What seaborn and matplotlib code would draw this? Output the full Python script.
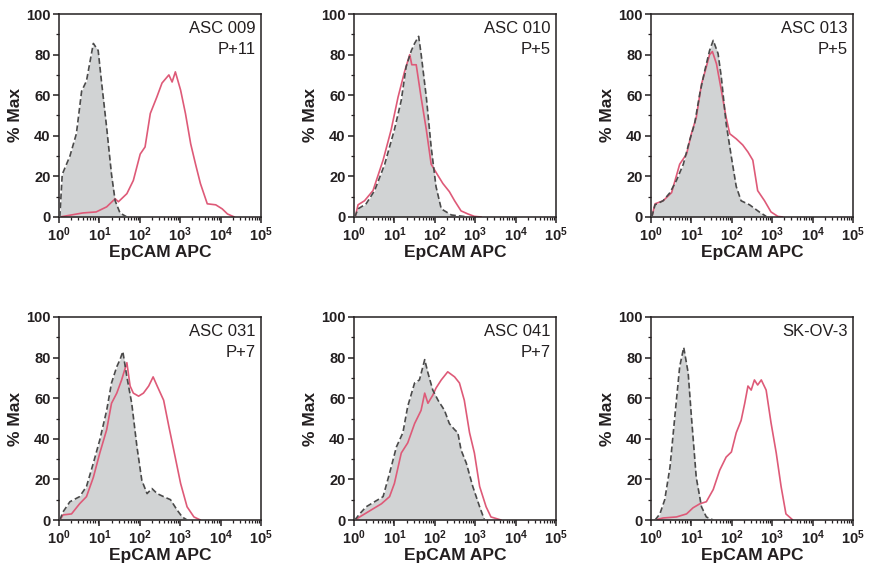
import numpy as np
import matplotlib
matplotlib.use("Agg")
import matplotlib.pyplot as plt
import matplotlib.ticker as mticker
import seaborn as sns

sns.set_theme(style="ticks")
plt.rcParams["font.family"] = ["Liberation Sans", "DejaVu Sans"]
plt.rcParams["mathtext.fontset"] = "custom"
plt.rcParams["mathtext.rm"] = "Liberation Sans"
plt.rcParams["mathtext.bf"] = "Liberation Sans:bold"
plt.rcParams["mathtext.default"] = "bf"
plt.rcParams["text.color"] = "#231f20"
plt.rcParams["axes.labelcolor"] = "#231f20"
plt.rcParams["xtick.color"] = "#231f20"
plt.rcParams["ytick.color"] = "#231f20"

# Sample names and passage labels
samples = ["ASC 009", "ASC 010", "ASC 013", "ASC 031", "ASC 041", "SK-OV-3"]
passages = ["P+11", "P+5", "P+5", "P+7", "P+7", ""]

# Histogram traces: log10(EpCAM APC) positions and % of max
iso_log = [
    [0.02, 0.08, 0.27, 0.43, 0.56, 0.68, 0.85, 0.97, 1.05, 1.18, 1.30, 1.39, 1.51, 1.68],
    [0.02, 0.10, 0.30, 0.51, 0.76, 1.00, 1.17, 1.29, 1.42, 1.50, 1.60, 1.66, 1.79, 1.91, 2.03, 2.16, 2.41, 2.82],
    [0.02, 0.10, 0.30, 0.47, 0.63, 0.80, 0.96, 1.08, 1.21, 1.33, 1.45, 1.54, 1.66, 1.74, 1.86, 1.99, 2.11, 2.23, 2.44, 2.68, 2.85],
    [0.02, 0.10, 0.27, 0.51, 0.68, 0.85, 1.01, 1.18, 1.30, 1.43, 1.51, 1.58, 1.68, 1.80, 1.93, 2.05, 2.18, 2.30, 2.43, 2.59, 2.76, 2.92, 3.05, 3.17],
    [0.02, 0.14, 0.30, 0.51, 0.72, 0.88, 1.05, 1.21, 1.33, 1.50, 1.62, 1.75, 1.83, 1.95, 2.08, 2.24, 2.36, 2.49, 2.57, 2.65, 2.78, 2.94, 3.11, 3.23],
    [0.10, 0.22, 0.34, 0.47, 0.59, 0.71, 0.81, 0.92, 1.00, 1.12, 1.25, 1.37, 1.54],
]
iso_pct = [
    [0, 21, 30, 41, 62, 67, 85.5, 82, 67, 44, 21, 8, 2, 0],
    [0, 4, 6.5, 13, 26, 43, 57.5, 74, 82, 85.5, 89, 80.5, 59, 34.5, 15, 4, 1, 0],
    [0, 6, 8, 12, 18, 26, 38, 46, 61, 72, 82, 87, 80.5, 69, 46, 29.5, 15, 8, 6, 2.5, 0.3],
    [0, 4, 9, 11.5, 16.5, 28, 39.5, 54, 67.5, 75.5, 79, 83, 70.5, 57.5, 36, 19.5, 13, 15.5, 13, 11.5, 10, 5, 1.5, 0],
    [0, 3, 6.5, 9, 11.5, 23, 36, 43, 56, 67.5, 69, 79, 72.5, 64, 59, 54, 47.5, 44.5, 43, 34.5, 28, 16.5, 6.5, 0],
    [0, 3, 10, 26, 51, 75.5, 85, 72.5, 51, 21, 6.5, 1.5, 0],
]
epcam_log = [
    [0.02, 0.59, 0.92, 1.18, 1.39, 1.47, 1.68, 1.84, 2.01, 2.13, 2.26, 2.42, 2.55, 2.72, 2.80, 2.88, 3.01, 3.13, 3.26, 3.38, 3.50, 3.67, 3.88, 4.04, 4.17, 4.34],
    [0.03, 0.10, 0.26, 0.47, 0.72, 0.92, 1.09, 1.25, 1.38, 1.43, 1.54, 1.66, 1.79, 1.91, 2.03, 2.20, 2.36, 2.49, 2.65, 2.82, 2.98, 3.15],
    [0.02, 0.10, 0.30, 0.51, 0.71, 0.88, 1.00, 1.12, 1.25, 1.37, 1.45, 1.52, 1.62, 1.74, 1.86, 1.95, 2.11, 2.27, 2.40, 2.52, 2.64, 2.81, 2.97, 3.14, 3.26],
    [0.02, 0.10, 0.31, 0.51, 0.68, 0.85, 1.01, 1.18, 1.30, 1.43, 1.55, 1.68, 1.76, 1.84, 1.97, 2.09, 2.22, 2.33, 2.43, 2.59, 2.72, 2.84, 3.01, 3.17, 3.34, 3.50],
    [0.02, 0.14, 0.43, 0.68, 0.88, 1.00, 1.17, 1.33, 1.50, 1.66, 1.75, 1.83, 1.95, 2.03, 2.16, 2.32, 2.49, 2.61, 2.73, 2.86, 2.98, 3.11, 3.27, 3.39, 3.64],
    [0.10, 0.30, 0.63, 0.88, 1.04, 1.21, 1.37, 1.54, 1.70, 1.86, 1.99, 2.11, 2.23, 2.32, 2.40, 2.48, 2.56, 2.64, 2.73, 2.85, 2.97, 3.10, 3.22, 3.34, 3.51],
]
epcam_pct = [
    [0, 2, 2.5, 5, 9, 7.5, 11.5, 18, 31, 34.5, 51, 59, 66, 70, 66.5, 71.5, 62.5, 51, 36, 26, 16.5, 6.5, 6, 4, 1.5, 0],
    [0, 6, 8, 13, 28, 43, 59, 71.5, 80, 75, 75, 59, 43, 26, 22, 16.5, 12.5, 8, 3, 1.5, 0.3, 0],
    [0, 6.5, 8, 12, 26, 31, 41, 49, 65.5, 74, 80, 81.5, 75.5, 62.5, 49, 41, 38.5, 35.5, 32, 28, 13, 8, 2.5, 0.3, 0],
    [0, 2.5, 3, 8, 11.5, 21, 33, 44.5, 57.5, 62.5, 69, 77.5, 66, 62.5, 61, 62.5, 66, 70.5, 66, 59, 46, 34.5, 18, 6.5, 1.5, 0],
    [0, 1.5, 5, 8, 11.5, 18, 33, 38, 47.5, 54, 62.5, 57.5, 61.5, 65, 69, 73, 70.5, 67.5, 59, 43, 33, 16.5, 6.5, 1.5, 0],
    [0, 1, 1.5, 3, 6, 8, 9, 15, 24.5, 31, 33.5, 43, 49, 57.5, 66, 64, 69, 66.5, 69, 64, 48, 33, 16.5, 3, 0],
]

RED = "#de5a78"
DARK = "#4a4a4a"
FILL = "#d1d3d4"
INK = "#231f20"

fig = plt.figure(figsize=(8.69, 5.68), dpi=100)
W, H = 869, 568
lefts = [59, 354, 651]
tops = [14, 317]
aw, ah = 202, 203

decade_labels = [r"$10^{%d}$" % i for i in range(6)]

for i, name in enumerate(samples):
    r, c = divmod(i, 3)
    ax = fig.add_axes([lefts[c] / W, (H - tops[r] - ah) / H, aw / W, ah / H])

    xi = 10 ** np.array(iso_log[i])
    yi = np.array(iso_pct[i])
    xe = 10 ** np.array(epcam_log[i])
    ye = np.array(epcam_pct[i])

    ax.fill_between(xi, yi, 0, color=FILL, linewidth=0, zorder=1)
    sns.lineplot(x=xi, y=yi, ax=ax, color=DARK, linewidth=1.2, linestyle=(0, (3.5, 1.8)),
                 estimator=None, sort=False, zorder=3)
    sns.lineplot(x=xe, y=ye, ax=ax, color=RED, linewidth=1.2,
                 estimator=None, sort=False, zorder=2)

    ax.set_xscale("log")
    ax.set_xlim(1, 1e5)
    ax.set_ylim(0, 100)
    ax.xaxis.set_major_locator(mticker.FixedLocator([10 ** k for k in range(6)]))
    ax.xaxis.set_major_formatter(mticker.FixedFormatter(decade_labels))
    ax.xaxis.set_minor_locator(mticker.LogLocator(base=10, subs=np.arange(2, 10), numticks=20))
    ax.xaxis.set_minor_formatter(mticker.NullFormatter())
    ax.yaxis.set_major_locator(mticker.MultipleLocator(20))
    ax.yaxis.set_minor_locator(mticker.MultipleLocator(10))

    for s in ax.spines.values():
        s.set_linewidth(1.1)
        s.set_color(INK)
    ax.tick_params(which="major", direction="out", length=4, width=1.1, colors=INK,
                   labelsize=10.5, pad=2)
    ax.tick_params(which="minor", direction="out", length=2.2, width=0.9, colors=INK)
    for lab in ax.get_yticklabels():
        lab.set_fontweight("bold")

    ax.set_xlabel("EpCAM APC", fontsize=12.5, fontweight="bold", labelpad=1, color=INK)
    ax.set_ylabel("% Max", fontsize=12.5, fontweight="bold", labelpad=2, color=INK)

    label = name if not passages[i] else name + "\n" + passages[i]
    ax.text(0.975, 0.965, label, transform=ax.transAxes, ha="right", va="top",
            fontsize=12, linespacing=1.45, color=INK)

fig.savefig("out.png", dpi=100)
